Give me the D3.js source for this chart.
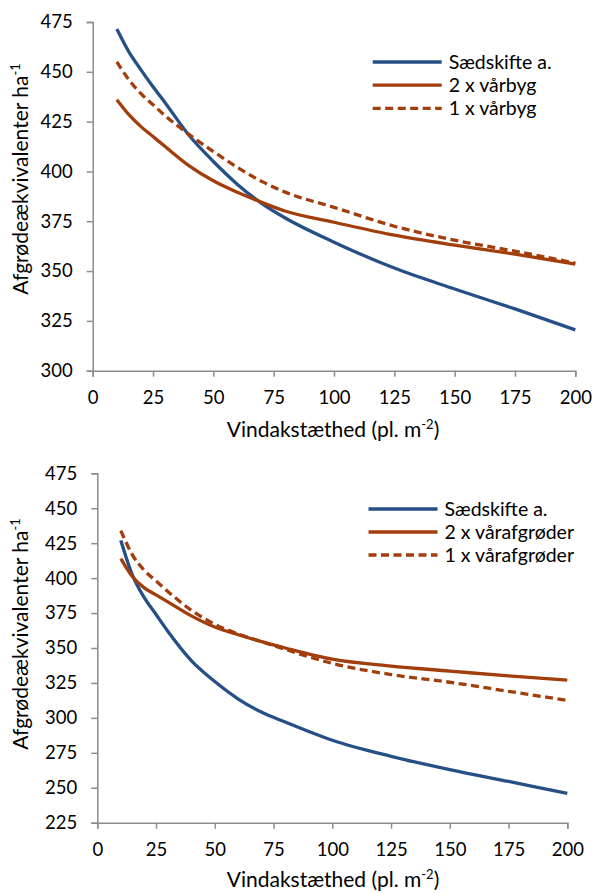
<!DOCTYPE html>
<html><head><meta charset="utf-8"/>
<script src="https://d3js.org/d3.v7.min.js"></script>
<style>
  body { margin: 0; padding: 0; background: #fff; }
  svg text { font-family: Lato, "Open Sans", sans-serif; fill: #000; }
</style>
</head>
<body>
<svg id="chart" width="595" height="894"></svg>
<script>
// plant densities (pl. m-2) where the curves were read
const densities = [10, 15, 20, 25, 30, 40, 50, 60, 70, 80, 100, 125, 150, 175, 200];

// top panel: spring barley
const topNames = ["Sædskifte a.", "2 x vårbyg", "1 x vårbyg"];
const topRotation = [471.5, 460, 451, 442.5, 434.5, 418, 405, 393.5, 384, 376.5, 364.5, 351.5, 341, 331, 320.5];
const topTwoSpring = [436, 428.5, 422.5, 417.5, 412.5, 402.8, 395.3, 389.5, 384.5, 380, 374.5, 368, 363, 358.5, 353.5];
const topOneSpring = [455, 446, 439, 433.5, 428, 418.5, 410, 402, 395, 389.5, 382, 372.5, 365.5, 360, 354];

// bottom panel: spring crops
const bottomNames = ["Sædskifte a.", "2 x vårafgrøder", "1 x vårafgrøder"];
const bottomRotation = [427, 402, 386, 374, 362, 341, 326, 313.5, 304, 297, 284, 272.5, 263, 254.5, 246];
const bottomTwoSpring = [414, 401, 393, 388, 383, 373, 365, 359.5, 354.5, 350, 342, 337, 333.5, 330, 327];
const bottomOneSpring = [434, 416.5, 405.5, 398, 390.5, 377, 367, 360, 354.5, 349, 339, 331, 325.5, 319, 312.5];

const xTicks = [0, 25, 50, 75, 100, 125, 150, 175, 200];
const topYTicks = [300, 325, 350, 375, 400, 425, 450, 475];
const bottomYTicks = [225, 250, 275, 300, 325, 350, 375, 400, 425, 450, 475];

const blue = "#264f86";
const rust = "#a23d0c";
const axisGray = "#8c8c8c";

const svg = d3.select("#chart");

function drawPanel(opt) {
  const x = d3.scaleLinear().domain([0, 200]).range([opt.left, opt.right]);
  const y = d3.scaleLinear().domain(d3.extent(opt.yTicks)).range([opt.bottom, opt.top]);
  const g = svg.append("g");

  // y axis
  const ya = g.append("g").attr("transform", `translate(${opt.left},0)`)
    .call(d3.axisLeft(y).tickValues(opt.yTicks).tickSize(6).tickPadding(14));
  // x axis
  const xa = g.append("g").attr("transform", `translate(0,${opt.bottom})`)
    .call(d3.axisBottom(x).tickValues(xTicks).tickSize(6).tickPadding(10));
  [ya, xa].forEach(a => {
    a.select(".domain").attr("stroke", axisGray).attr("stroke-width", 1.5);
    a.selectAll(".tick line").attr("stroke", axisGray).attr("stroke-width", 1.5);
    a.selectAll(".tick text").attr("font-size", 18.5).attr("fill", "#000")
      .attr("font-family", "Lato, 'Open Sans', sans-serif");
  });
  xa.selectAll(".tick text").attr("dy", "0.95em");

  const line = d3.line()
    .x((d, i) => x(densities[i]))
    .y(d => y(d))
    .curve(d3.curveMonotoneX);

  const series = [
    { name: opt.names[0], values: opt.series[0], color: blue, dash: null },
    { name: opt.names[1], values: opt.series[1], color: rust, dash: null },
    { name: opt.names[2], values: opt.series[2], color: rust, dash: "8,4.5" }
  ];

  g.selectAll("path.series").data(series).enter().append("path")
    .attr("class", "series")
    .attr("d", d => line(d.values))
    .attr("fill", "none")
    .attr("stroke", d => d.color)
    .attr("stroke-width", 3.3)
    .attr("stroke-dasharray", d => d.dash);

  // legend
  const lg = g.append("g");
  series.forEach((s, i) => {
    const ly = opt.legendY + i * opt.legendGap;
    lg.append("line")
      .attr("x1", opt.legendX).attr("x2", opt.legendX + 69)
      .attr("y1", ly).attr("y2", ly)
      .attr("stroke", s.color).attr("stroke-width", 3.3)
      .attr("stroke-dasharray", s.dash);
    lg.append("text")
      .attr("x", opt.legendX + 76).attr("y", ly + 7)
      .attr("font-size", 19.5)
      .text(s.name);
  });

  // y title
  const yt = g.append("text")
    .attr("transform", `translate(28,${opt.yTitleY}) rotate(-90)`)
    .attr("text-anchor", "middle")
    .attr("font-size", 21);
  yt.append("tspan").text("Afgrødeækvivalenter ha");
  yt.append("tspan").attr("dy", -8).attr("font-size", 13).text("-1");

  // x title
  const xt = g.append("text")
    .attr("x", opt.xTitleX).attr("y", opt.xTitleY)
    .attr("text-anchor", "middle")
    .attr("font-size", 21);
  xt.append("tspan").text("Vindakstæthed (pl. m");
  xt.append("tspan").attr("dy", -8).attr("font-size", 13).text("-2");
  xt.append("tspan").attr("dy", 8).text(")");
}

drawPanel({
  left: 92.7, right: 575.3, top: 22, bottom: 370.7,
  yTicks: topYTicks, names: topNames,
  series: [topRotation, topTwoSpring, topOneSpring],
  legendX: 372.7, legendY: 62, legendGap: 23.2,
  yTitleY: 179, xTitleX: 333, xTitleY: 437
});

drawPanel({
  left: 97.3, right: 567.3, top: 473.3, bottom: 822.7,
  yTicks: bottomYTicks, names: bottomNames,
  series: [bottomRotation, bottomTwoSpring, bottomOneSpring],
  legendX: 368.5, legendY: 509, legendGap: 23,
  yTitleY: 634, xTitleX: 333, xTitleY: 887
});
</script>
</body></html>
